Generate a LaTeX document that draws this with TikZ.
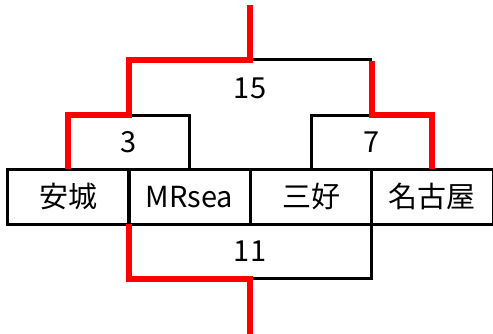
\documentclass[tikz,border=0pt]{standalone}
\usepackage{fontspec}
\setmainfont{Noto Sans CJK JP}
\usepackage{tikz}

\tikzset{
	team/.style={draw, line width=3pt, minimum width=121.5pt, minimum height=54.5pt, inner sep=0pt, outer sep=0pt},
	score/.style={inner sep=0pt},
	lose/.style={line width=3pt, black},
	win/.style={line width=6pt, red}
}

\begin{document}
\begin{tikzpicture}[x=1pt, y=-1pt, font=\fontsize{29}{32}\selectfont]
				\useasboundingbox (0,0) rectangle (493,334);

				\node[team] (anjo) at (68.25, 196.75) {安城};
				\node[team] (mrsea) at (189.5, 196.75) {MRsea};
				\node[team] (miyoshi) at (311, 196.75) {三好};
				\node[team] (nagoya) at (432.25, 196.75) {名古屋};

				\coordinate (m3) at (128.5, 115.5);
				\coordinate (m7) at (372, 115.5);
				\coordinate (m15) at (250, 60);
				\coordinate (m11) at (250, 278.5);
				\coordinate (top) at (250, 5);
				\coordinate (bottom) at (250, 334);

				\node[score] (s3) at (128.5, 142.5) {3};
				\node[score] (s7) at (372, 142.5) {7};
				\node[score] (s15) at (250, 88) {15};
				\node[score] (s11) at (250, 251) {11};

				\draw [lose] (m3) -| (mrsea.north);
				\draw [lose] (miyoshi.north) |- (m7);
				\draw [lose] (m7 |- m15) -- (m15);
				\draw [lose] (m11) -| (miyoshi.south east);

				\draw [win] (anjo.north) |- (m3) |- (m15) -- (top);
				\draw [win] (nagoya.north) |- (m7) -- ([yshift=-1.5pt]m7 |- m15);
				\draw [win] (anjo.south east) |- (m11) -- (bottom);
		\end{tikzpicture}
\end{document}
